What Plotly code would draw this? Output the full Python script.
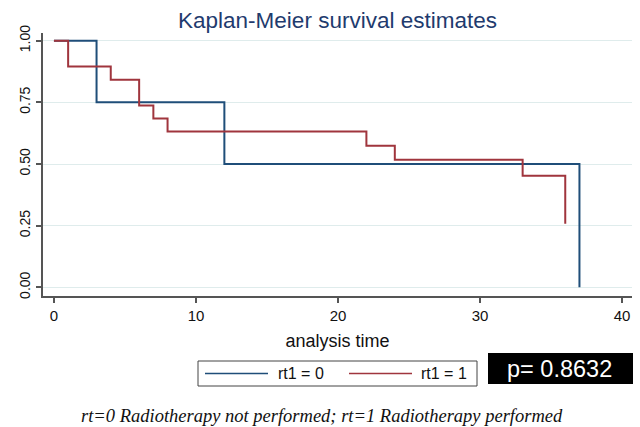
import plotly.graph_objects as go

# Kaplan-Meier step data
time_rt0 = [0, 3, 12, 37]
surv_rt0 = [1.00, 0.75, 0.50, 0.00]

time_rt1 = [0, 1, 4, 6, 7, 8, 22, 24, 33, 36]
surv_rt1 = [1.00, 0.895, 0.842, 0.737, 0.684, 0.632, 0.574, 0.517, 0.452, 0.258]

x_ticks = [0, 10, 20, 30, 40]
y_ticks = [0.00, 0.25, 0.50, 0.75, 1.00]
y_ticklabels = ["0.00", "0.25", "0.50", "0.75", "1.00"]

series_names = ["rt1 = 0", "rt1 = 1"]
p_text = "p= 0.8632"
caption = "rt=0 Radiotherapy not performed; rt=1 Radiotherapy performed"

BLUE = "#1f4e79"
RED = "#a0353d"

fig = go.Figure()
fig.add_trace(go.Scatter(x=time_rt0, y=surv_rt0, mode="lines", line_shape="hv",
                         line=dict(color=BLUE, width=2), name=series_names[0]))
fig.add_trace(go.Scatter(x=time_rt1, y=surv_rt1, mode="lines", line_shape="hv",
                         line=dict(color=RED, width=2), name=series_names[1]))

L, R, T, B = 43, 8, 33, 131
W, H = 640, 427
pw, ph = W - L - R, H - T - B

def px(xp):
    return (xp - L) / pw

def py(yp):
    return (H - B - yp) / ph

fig.update_layout(
    width=W, height=H,
    margin=dict(l=L, r=R, t=T, b=B),
    paper_bgcolor="white", plot_bgcolor="white",
    showlegend=False,
    font=dict(family="Liberation Sans, Arial", color="#111"),
    title=dict(text="Kaplan-Meier survival estimates", x=0.5, xref="paper",
               y=1 - 20 / H, yref="container", yanchor="middle", xanchor="center",
               font=dict(size=22.5, color="#1f3b6e")),
    xaxis=dict(range=[-0.77, 40.7], tickvals=x_ticks, showgrid=False, zeroline=False,
               showline=True, linecolor="#555", linewidth=1.5,
               ticks="outside", ticklen=5, tickcolor="#555", tickwidth=1.5,
               tickfont=dict(size=15, color="#111"),
               title=dict(text="analysis time", standoff=12, font=dict(size=18, color="#111"))),
    yaxis=dict(range=[-0.035, 1.031], tickvals=y_ticks, ticktext=y_ticklabels,
               tickangle=-90, showgrid=True, gridcolor="#dfecec", gridwidth=1,
               zeroline=False, showline=True, linecolor="#555", linewidth=1.5,
               ticks="outside", ticklen=5, tickcolor="#555", tickwidth=1.5,
               ticklabelstandoff=1,
               tickfont=dict(size=14, color="#111")),
)

# Legend box (drawn manually to match line-length of reference)
fig.add_shape(type="rect", xref="paper", yref="paper",
              x0=px(198), x1=px(477), y0=py(386), y1=py(361),
              line=dict(color="#444", width=1), fillcolor="white")
fig.add_shape(type="line", xref="paper", yref="paper",
              x0=px(205), x1=px(268), y0=py(373.5), y1=py(373.5),
              line=dict(color=BLUE, width=1.5))
fig.add_shape(type="line", xref="paper", yref="paper",
              x0=px(349), x1=px(412), y0=py(373.5), y1=py(373.5),
              line=dict(color=RED, width=1.5))
fig.add_annotation(text=series_names[0], xref="paper", yref="paper", x=px(276), y=py(373.5),
                   xanchor="left", yanchor="middle", showarrow=False, font=dict(size=16, color="#111"))
fig.add_annotation(text=series_names[1], xref="paper", yref="paper", x=px(419), y=py(373.5),
                   xanchor="left", yanchor="middle", showarrow=False, font=dict(size=16, color="#111"))

# p-value box
fig.add_shape(type="rect", xref="paper", yref="paper",
              x0=px(488), x1=px(633), y0=py(384), y1=py(353),
              line=dict(color="black", width=0), fillcolor="black")
fig.add_annotation(text=p_text, xref="paper", yref="paper", x=px(559), y=py(368.5),
                   xanchor="center", yanchor="middle", showarrow=False,
                   font=dict(size=23.5, color="white"))

# caption
fig.add_annotation(text="<i>" + caption + "</i>", xref="paper", yref="paper",
                   x=px(322), y=py(416), xanchor="center", yanchor="middle", showarrow=False,
                   font=dict(size=18.5, family="Liberation Serif, Times New Roman", color="#111"))

fig.write_html("out.html")
